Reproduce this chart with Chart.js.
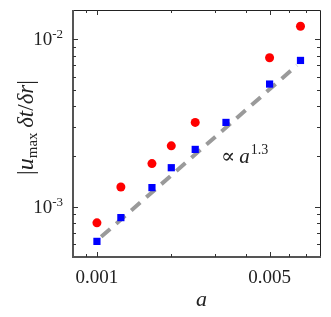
<!DOCTYPE html>
<html>
<head>
<meta charset="utf-8">
<script src="https://cdn.jsdelivr.net/npm/chart.js@4/dist/chart.umd.min.js"></script>
<style>
html,body{margin:0;padding:0;background:#fff;}
#wrap{width:331px;height:317px;}
</style>
</head>
<body>
<div id="wrap"><canvas id="c" width="331" height="317"></canvas></div>
<script>
// ---- data ----
const aValues = [0.001, 0.00125, 0.00167, 0.002, 0.0025, 0.00333, 0.005, 0.00667];
const redA = [0.001, 0.00125, 0.00167, 0.002, 0.0025, 0.005, 0.00667];
const redValues = [0.00080, 0.00131, 0.00181, 0.00231, 0.00319, 0.00777, 0.0120];
const blueValues = [0.00062, 0.00086, 0.00130, 0.00171, 0.00220, 0.00319, 0.00541, 0.00749];
const fitA = [0.00104, 0.00645];
const fitValues = [0.00066, 0.0070];
const xTickValues = [0.001, 0.005];
const xTickLabels = ['0.001', '0.005'];
const xMinorTicks = [0.0009, 0.002, 0.003, 0.004, 0.006, 0.007];
const yTickValues = [0.001, 0.01];
const yTickExponents = ['-3', '-2'];
const yMinorTicks = [0.0006, 0.0007, 0.0008, 0.0009, 0.002, 0.003, 0.004, 0.005, 0.006, 0.007, 0.008, 0.009];
const annotationBase = 'a';
const annotationExp = '1.3';

const SERIF = '"Liberation Serif", "DejaVu Serif", serif';

const decor = {
  id: 'decor',
  afterDraw(chart) {
    const ctx = chart.ctx;
    const ca = chart.chartArea;
    const xs = chart.scales.x, ys = chart.scales.y;
    ctx.save();
    // box
    ctx.lineWidth = 1;
    ctx.strokeStyle = '#222';
    ctx.beginPath();
    ctx.moveTo(ca.left, ca.top + 0.5); ctx.lineTo(ca.right + 0.5, ca.top + 0.5);
    ctx.lineTo(ca.right + 0.5, ca.bottom);
    ctx.stroke();
    ctx.lineWidth = 2;
    ctx.strokeStyle = '#555';
    ctx.beginPath();
    ctx.moveTo(ca.left, ca.top); ctx.lineTo(ca.left, ca.bottom); ctx.lineTo(ca.right + 1, ca.bottom);
    ctx.stroke();
    // ticks
    ctx.lineWidth = 1;
    ctx.strokeStyle = '#333';
    const xt = (v, len) => {
      const p = Math.round(xs.getPixelForValue(v)) + 0.5;
      ctx.beginPath();
      ctx.moveTo(p, ca.bottom); ctx.lineTo(p, ca.bottom - len);
      ctx.moveTo(p, ca.top); ctx.lineTo(p, ca.top + len);
      ctx.stroke();
    };
    const yt = (v, len) => {
      const p = Math.round(ys.getPixelForValue(v)) + 0.5;
      ctx.beginPath();
      ctx.moveTo(ca.left, p); ctx.lineTo(ca.left + len, p);
      ctx.moveTo(ca.right, p); ctx.lineTo(ca.right - len, p);
      ctx.stroke();
    };
    xTickValues.forEach(v => xt(v, 5));
    xMinorTicks.forEach(v => xt(v, 3));
    yTickValues.forEach(v => yt(v, 5));
    yMinorTicks.forEach(v => yt(v, 3));
    // x tick labels
    ctx.fillStyle = '#222';
    ctx.font = '19px ' + SERIF;
    ctx.textAlign = 'center';
    ctx.textBaseline = 'alphabetic';
    xTickValues.forEach((v, i) => {
      ctx.fillText(xTickLabels[i], xs.getPixelForValue(v), ca.bottom + 26);
    });
    // y tick labels 10^e
    yTickValues.forEach((v, i) => {
      const p = ys.getPixelForValue(v);
      ctx.font = '13px ' + SERIF;
      const ew = ctx.measureText(yTickExponents[i]).width;
      ctx.textAlign = 'right';
      const right = ca.left - 10;
      ctx.fillText(yTickExponents[i], right, p - 1);
      ctx.font = '19px ' + SERIF;
      ctx.fillText('10', right - ew, p + 6);
    });
    // x axis title
    ctx.font = 'italic 22px ' + SERIF;
    ctx.textAlign = 'center';
    ctx.fillText('a', (ca.left + ca.right) / 2 + 5, ca.bottom + 49);
    // y axis title (rotated)
    ctx.save();
    ctx.translate(33, (ca.top + ca.bottom) / 2 - 6);
    ctx.rotate(-Math.PI / 2);
    const parts = [
      {t: '|', f: '23px ' + SERIF, dy: 0},
      {t: 'u', f: 'italic 24px ' + SERIF, dy: 0},
      {t: 'max', f: '15px ' + SERIF, dy: 4},
      {t: '\u2009\u03B4', f: 'italic 23px ' + SERIF, dy: 0},
      {t: 't', f: 'italic 23px ' + SERIF, dy: 0},
      {t: '/', f: '23px ' + SERIF, dy: 0},
      {t: '\u03B4', f: 'italic 23px ' + SERIF, dy: 0},
      {t: 'r', f: 'italic 23px ' + SERIF, dy: 0},
      {t: '|', f: '23px ' + SERIF, dy: 0}
    ];
    let total = 0;
    parts.forEach(p => { ctx.font = p.f; p.w = ctx.measureText(p.t).width; total += p.w; });
    let x = -total / 2;
    ctx.textAlign = 'left';
    parts.forEach(p => { ctx.font = p.f; ctx.fillText(p.t, x, p.dy); x += p.w; });
    ctx.restore();
    // annotation
    ctx.textAlign = 'left';
    ctx.font = '21px ' + SERIF;
    let ax = 221, ay = 163;
    ctx.fillText('\u221D', ax, ay);
    ax += ctx.measureText('\u221D').width + 4;
    ctx.font = 'italic 21px ' + SERIF;
    ctx.fillText(annotationBase, ax, ay);
    ax += ctx.measureText(annotationBase).width + 1;
    ctx.font = '14px ' + SERIF;
    ctx.fillText(annotationExp, ax, ay - 9);
    ctx.restore();
  }
};

new Chart(document.getElementById('c'), {
  type: 'scatter',
  data: {
    datasets: [
      {
        label: 'red',
        data: redA.map((a, i) => ({x: a, y: redValues[i]})),
        pointStyle: 'circle',
        pointRadius: 4.5,
        backgroundColor: '#ff0000',
        borderWidth: 0,
        order: 1
      },
      {
        label: 'blue',
        data: aValues.map((a, i) => ({x: a, y: blueValues[i]})),
        pointStyle: 'rect',
        pointRadius: 5.1,
        backgroundColor: '#0000ff',
        borderWidth: 0,
        order: 2
      },
      {
        label: 'fit',
        type: 'line',
        data: fitA.map((a, i) => ({x: a, y: fitValues[i]})),
        borderColor: '#9a9a9a',
        borderWidth: 4,
        borderDash: [12, 8],
        pointRadius: 0,
        showLine: true,
        fill: false,
        order: 10
      }
    ]
  },
  options: {
    responsive: false,
    animation: false,
    events: [],
    layout: {padding: {left: 73, right: 11, top: 10, bottom: 60}},
    plugins: {legend: {display: false}, tooltip: {enabled: false}},
    scales: {
      x: {type: 'logarithmic', min: 0.0008, max: 0.008, display: false},
      y: {type: 'logarithmic', min: 0.0005, max: 0.015, display: false}
    }
  },
  plugins: [decor]
});
</script>
</body>
</html>
